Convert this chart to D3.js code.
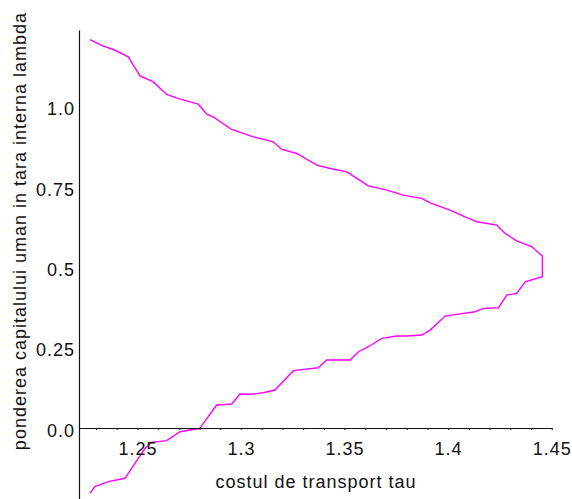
<!DOCTYPE html>
<html>
<head>
<meta charset="utf-8">
<script src="https://cdn.jsdelivr.net/npm/d3@7"></script>
<style>
  html, body { margin: 0; padding: 0; background: #fff; }
  svg { display: block; }
  text { font-family: Arial, "Liberation Sans", sans-serif; letter-spacing: 1px; fill: #111; }
</style>
</head>
<body>
<div id="chart"></div>
<script>
const tauUpper = [1.2271, 1.2335, 1.2384, 1.2456, 1.2480, 1.2513, 1.2577, 1.2641, 1.2706, 1.2794,
  1.2835, 1.2866, 1.2955, 1.3035, 1.3060, 1.3156, 1.3197, 1.3269, 1.3366, 1.3430,
  1.3511, 1.3559, 1.3615, 1.3704, 1.3784, 1.3873, 1.3913, 1.4009, 1.4074, 1.4138,
  1.4235, 1.4275, 1.4331, 1.4404, 1.4455];
const lambdaUpper = [1.2094, 1.1886, 1.1783, 1.1553, 1.1294, 1.0961, 1.0775, 1.0383, 1.0236, 1.0081,
  0.9770, 0.9686, 0.9294, 0.9116, 0.9063, 0.8908, 0.8671, 0.8547, 0.8183, 0.8080,
  0.7975, 0.7769, 0.7539, 0.7405, 0.7250, 0.7147, 0.7010, 0.6783, 0.6596, 0.6419,
  0.6316, 0.6058, 0.5828, 0.5641, 0.5352];

// lower branch (lambda < 0.5), from the tip back to bottom-left
const tauLower = [1.4455, 1.4372, 1.4331, 1.4283, 1.4243, 1.4170, 1.4130, 1.4042, 1.3985, 1.3913,
  1.3873, 1.3800, 1.3752, 1.3680, 1.3615, 1.3567, 1.3527, 1.3414, 1.3373, 1.3301,
  1.3253, 1.3164, 1.3108, 1.3044, 1.2995, 1.2955, 1.2883, 1.2818, 1.2802, 1.2706,
  1.2641, 1.2569, 1.2537, 1.2504, 1.2440, 1.2359, 1.2295, 1.2271];
const lambdaLower = [0.4708, 0.4552, 0.4191, 0.4138, 0.3743, 0.3724, 0.3619, 0.3538, 0.3485, 0.3049,
  0.2894, 0.2862, 0.2862, 0.2791, 0.2530, 0.2374, 0.2116, 0.2116, 0.1876, 0.1826,
  0.1783, 0.1182, 0.1098, 0.1049, 0.1058, 0.0747, 0.0716, 0.0146, -0.0009, -0.0115,
  -0.0395, -0.0445, -0.0632, -0.0943, -0.1565, -0.1671, -0.1826, -0.2032];

const xTicks = [1.23, 1.24, 1.25, 1.26, 1.27, 1.28, 1.29, 1.30, 1.31, 1.32, 1.33, 1.34,
  1.35, 1.36, 1.37, 1.38, 1.39, 1.40, 1.41, 1.42, 1.43, 1.44, 1.45];
const xLabelValues = [1.25, 1.30, 1.35, 1.40, 1.45];
const xLabels = ["1.25", "1.3", "1.35", "1.4", "1.45"];
const yTicks = [0, 0.25, 0.5, 0.75, 1.0];
const yLabels = ["0.0", "0.25", "0.5", "0.75", "1.0"];

const xTitle = "costul de transport tau";
const yTitle = "ponderea capitalului uman in tara interna lambda";

const width = 572;
const height = 499;

const x = d3.scaleLinear().domain([1.2218, 1.45]).range([79, 551.7]);
const y = d3.scaleLinear().domain([-0.221, 1.239]).range([499, 30]);

const svg = d3.select("#chart")
  .append("svg")
  .attr("width", width)
  .attr("height", height);

// curve: upper branch then lower branch, one continuous line
const points = tauUpper.map((t, i) => [t, lambdaUpper[i]])
  .concat(tauLower.map((t, i) => [t, lambdaLower[i]]));

const line = d3.line()
  .x(d => x(d[0]))
  .y(d => y(d[1]));

svg.append("path")
  .datum(points)
  .attr("fill", "none")
  .attr("stroke", "#ff00ff")
  .attr("stroke-width", 1.4)
  .attr("d", line);

// x axis sits on lambda = 0
const xAxis = d3.axisBottom(x)
  .tickValues(xTicks)
  .tickSize(2)
  .tickSizeOuter(0)
  .tickPadding(12)
  .tickFormat(d => {
    const k = xLabelValues.findIndex(v => Math.abs(v - d) < 1e-6);
    return k >= 0 ? xLabels[k] : "";
  });

const gx = svg.append("g")
  .attr("transform", `translate(0,${y(0)})`)
  .call(xAxis);
gx.select(".domain").attr("stroke", "#111").attr("stroke-width", 1.2);
gx.selectAll(".tick line").attr("stroke", "#111");
gx.selectAll(".tick text")
  .style("font-size", "18px")
  .attr("fill", "#111");

// y axis sits on the left edge, no tick marks
const yAxis = d3.axisLeft(y)
  .tickValues(yTicks)
  .tickSize(0)
  .tickSizeOuter(0)
  .tickPadding(4)
  .tickFormat((d, i) => yLabels[i]);

const gy = svg.append("g")
  .attr("transform", `translate(${x(1.2218)},0)`)
  .call(yAxis);
gy.select(".domain").attr("stroke", "#111").attr("stroke-width", 1.2);
gy.selectAll(".tick text")
  .style("font-size", "18px")
  .attr("dy", "0.45em")
  .attr("fill", "#111");

// axis titles
svg.append("text")
  .attr("x", 316)
  .attr("y", 488)
  .attr("text-anchor", "middle")
  .style("font-size", "18px")
  .text(xTitle);

svg.append("text")
  .attr("transform", "translate(26,231) rotate(-90)")
  .attr("text-anchor", "middle")
  .style("font-size", "18px")
  .text(yTitle);
</script>
</body>
</html>
